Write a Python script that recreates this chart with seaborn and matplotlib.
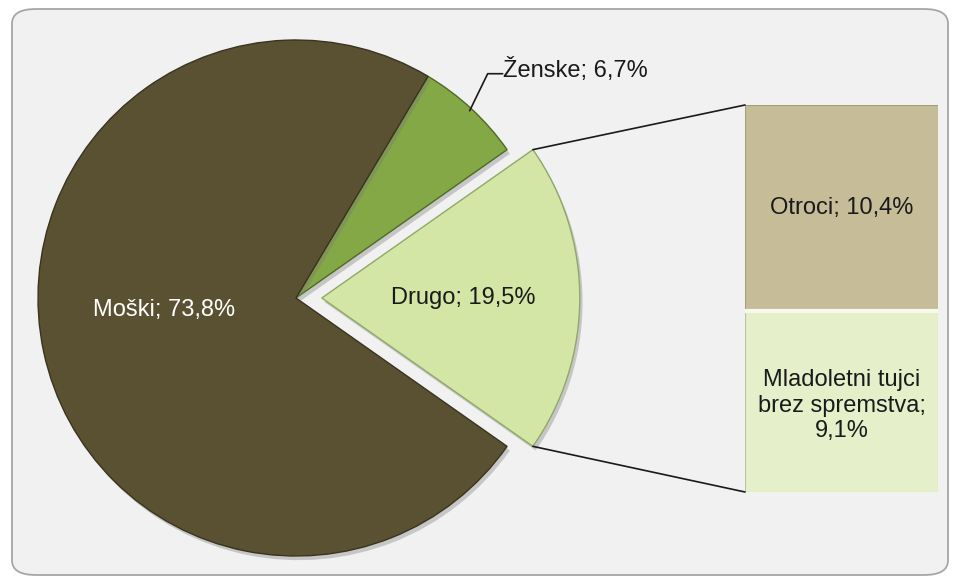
import numpy as np
import matplotlib
matplotlib.use('Agg')
import matplotlib.pyplot as plt
import matplotlib.patheffects as pe
from matplotlib.patches import FancyBboxPatch, ConnectionPatch
import seaborn as sns

# --- podatki ---
pie_labels = ['Drugo', 'Ženske', 'Moški']
pie_values = [19.5, 6.7, 73.8]
pie_colors = ['#d3e6a6', '#84a845', '#5a5132']
pie_text_colors = ['#1a1a1a', '#1a1a1a', 'white']

bar_labels = ['Mladoletni tujci\nbrez spremstva', 'Otroci']
bar_values = [9.1, 10.4]
bar_colors = ['#e5efca', '#c6bc98']

sns.set_theme(style='white')
plt.rcParams['font.family'] = ['Liberation Sans', 'DejaVu Sans']

W, H = 958, 583
fig = plt.figure(figsize=(W / 100, H / 100), dpi=100)
fig.patch.set_facecolor('white')

# ozadje z zaobljenimi robovi
bg = FancyBboxPatch((12 / W, 8 / H), 936 / W, 566 / H,
                    boxstyle='round,pad=0,rounding_size=0.025',
                    transform=fig.transFigure, facecolor='#f1f1f1',
                    edgecolor='#a6a6a6', linewidth=1.3, zorder=-5)
fig.patches.append(bg)

ax = fig.add_axes([0, 0, 1, 1])
ax.set_facecolor('none')

cx, cy, R = 296, 285, 258
explode = [0.1, 0, 0]
start = -pie_values[0] / 100 * 360 / 2

wedges, _ = ax.pie(pie_values, colors=pie_colors, explode=[e * R for e in explode],
                   startangle=start, center=(cx, cy), radius=R,
                   wedgeprops=dict(linewidth=1.0), frame=True)
edge_cols = ['#8fa868', '#4d6b22', '#3a3320']
for w, ec in zip(wedges, edge_cols):
    w.set_edgecolor(ec)
    w.set_path_effects([pe.SimplePatchShadow(offset=(2, -3), alpha=0.35, shadow_rgbFace='#777777'),
                        pe.Normal()])

ax.set_xlim(0, W)
ax.set_ylim(0, H)
ax.set_aspect('equal')
ax.axis('off')

# oznake na torti
fs = 17
ang = start
for lab, val, w, tc, ex in zip(pie_labels, pie_values, wedges, pie_text_colors, explode):
    span = val / 100 * 360
    mid = np.deg2rad(ang + span / 2)
    txt = f"{lab}; {val:.1f}%".replace('.', ',')
    ox, oy = cx + ex * R * np.cos(mid), cy + ex * R * np.sin(mid)
    if lab == 'Ženske':
        px, py = cx + 0.99 * R * np.cos(mid), cy + 0.99 * R * np.sin(mid)
        ax.plot([px, px + 18, px + 33], [py, py + 37, py + 37], color='#1a1a1a', lw=1.2)
        ax.text(px + 33, py + 41, txt, ha='left', va='center', fontsize=fs, color='#1a1a1a')
    elif lab == 'Moški':
        ax.text(ox - 0.51 * R, oy - 0.045 * R, txt,
                ha='center', va='center', fontsize=fs, color=tc)
    else:
        ax.text(ox + 0.55 * R * np.cos(mid), oy + 0.55 * R * np.sin(mid), txt,
                ha='center', va='center', fontsize=fs, color=tc)
    ang += span

# --- stolpec ---
bx0, bx1, by0, by1 = 745, 938, 91, 478
bax = fig.add_axes([bx0 / W, by0 / H, (bx1 - bx0) / W, (by1 - by0) / H])
bax.set_facecolor('none')
total = sum(bar_values)
sns.barplot(x=[0], y=[total], color=bar_colors[1], width=1.0, ax=bax,
            edgecolor='#a59c7c', linewidth=0.8, saturation=1)
sns.barplot(x=[0], y=[bar_values[0]], color=bar_colors[0], width=1.0, ax=bax,
            edgecolor='#b8c6a0', linewidth=0.8, saturation=1)
for p in bax.patches:
    p.set_path_effects([pe.SimplePatchShadow(offset=(2, -3), alpha=0.3, shadow_rgbFace='#777777'),
                        pe.Normal()])
bax.axhline(bar_values[0], color='#f6f9ee', lw=3)
bax.set_xlim(-0.5, 0.5)
bax.set_ylim(0, total)
bax.axis('off')

bottom = 0
for lab, val in zip(bar_labels, bar_values):
    txt = f"{lab}; {val:.1f}%".replace('.', ',')
    yoff = 0
    if '\n' in lab:
        txt = f"{lab};\n{val:.1f}%".replace('.', ',')
        yoff = -0.2
    bax.text(0, bottom + val / 2 + yoff, txt, ha='center', va='center', fontsize=fs,
             color='#1a1a1a', linespacing=1.22)
    bottom += val

# povezovalne črte
d_end = np.deg2rad(-start)
d_st = np.deg2rad(start)
ox, oy = cx + explode[0] * R, cy
for a, yb in [(d_end, total), (d_st, 0)]:
    p = (ox + R * np.cos(a), oy + R * np.sin(a))
    con = ConnectionPatch(xyA=p, coordsA=ax.transData, xyB=(-0.5, yb), coordsB=bax.transData,
                          color='#1a1a1a', lw=1.2)
    fig.add_artist(con)

plt.savefig('out.png', dpi=100)
